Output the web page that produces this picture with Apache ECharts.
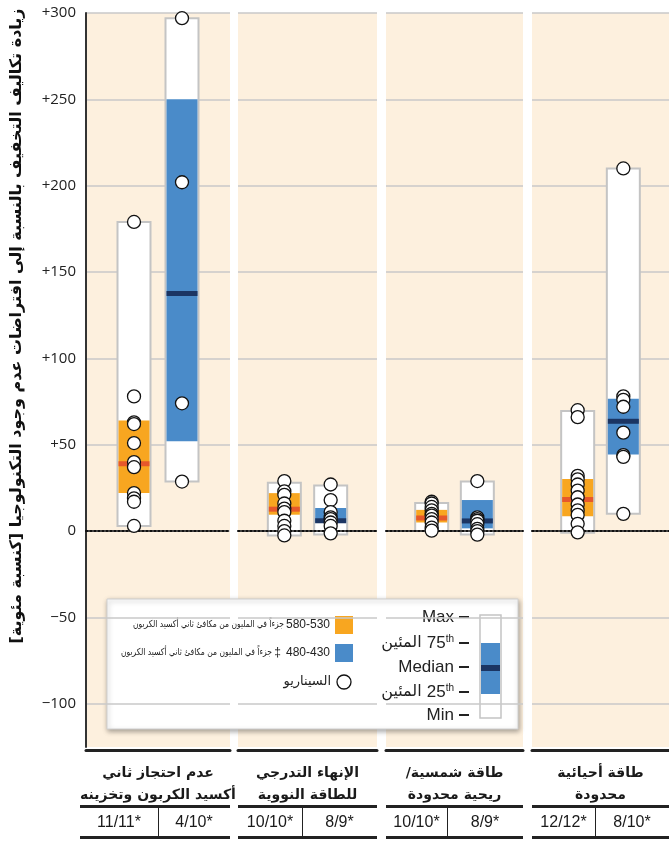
<!DOCTYPE html>
<html><head><meta charset="utf-8">
<script src="https://cdn.jsdelivr.net/npm/echarts@6/dist/echarts.min.js"></script>
<style>html,body{margin:0;padding:0;background:#fff}#c{width:669px;height:842px}</style>
</head><body><div id="c"></div>
<script>
// ---------- data ----------
const categories = ['عدم احتجاز ثاني\nأكسيد الكربون وتخزينه', 'الإنهاء التدرجي\nللطاقة النووية', 'طاقة شمسية/\nريحية محدودة', 'طاقة أحيائية\nمحدودة'];
const countsOrange = ['11/11*', '10/10*', '10/10*', '12/12*'];
const countsBlue = ['4/10*', '8/9*', '8/9*', '8/10*'];
// [min, 25th, median, 75th, max]
const orangeStats = [[3, 22, 39, 64, 179], [-2.5, 9.5, 12.7, 22, 28], [0, 5, 7.6, 12.3, 16.3], [-1, 8.6, 18.3, 30.2, 69.5]];
const blueStats = [[28.7, 52, 137.6, 250, 297], [-2, 4.8, 6, 13.4, 26.4], [-2, 1.6, 5.9, 18, 28.7], [10, 44.3, 63.6, 76.6, 210]];
const orangeScenarios = [
  [179, 78, 63, 62, 51, 40, 37, 22, 19, 17, 3],
  [29, 23, 21, 16, 13, 11, 6, 3, 0, -2.5],
  [17, 16, 14, 12, 10, 9, 7, 5, 2, 0.3],
  [70, 66, 32, 30, 27, 23.5, 19.6, 15.4, 12, 9.4, 4.2, -0.7]
];
const blueScenarios = [
  [297, 202, 74, 28.7],
  [27, 18, 11, 8, 7, 5, 3, -1.3],
  [29, 8, 7, 6, 4, 1.3, 0, -2],
  [210, 78, 76, 72, 57, 44, 43, 10]
];
const yTickValues = [300, 250, 200, 150, 100, 50, 0, -50, -100];
const yTickLabels = ['+300', '+250', '+200', '+150', '+100', '+50', '0', '−50', '−100'];
const yTitle = 'زيادة تكاليف التخفيف بالنسبة إلى افتراضات عدم وجود التكنولوجيا [كنسبة مئوية]';
const legendOrange = 'جزءاً في المليون من مكافئ ثاني أكسيد الكربون';
const legendBlue = 'جزءاً في المليون من مكافئ ثاني أكسيد الكربون';
const legendOrangeRange = '580-530';
const legendBlueRange = '480-430';
const legendScenario = 'السيناريو';
const pctWord = 'المئين';

// right-to-left embedding for each line
const rtl = s => s.split('\n').map(l => '\u202B' + l + '\u202C').join('\n');

// ---------- style ----------
const ORANGE = '#f8a620', RED = '#e6582b', BLUE = '#4a8bc9', NAVY = '#1b3563', BEIGE = '#fdf0de', GRID = '#c8c8c8';
const AR = '"DejaVu Sans"';
const LAT = '"Liberation Sans Narrow","Liberation Sans",sans-serif';
const panels = [{l: 86, w: 144}, {l: 238, w: 139}, {l: 386, w: 137}, {l: 532, w: 137}];
const TOP = 13, H = 734;

const grids = [], xAxes = [], yAxes = [], series = [];
panels.forEach((p, i) => {
  grids.push({left: p.l, top: TOP, width: p.w, height: H, show: true, backgroundColor: BEIGE, borderWidth: 0});
  xAxes.push({gridIndex: i, type: 'value', min: 0, max: 3, z: 3,
    axisLine: {show: true, onZero: true, lineStyle: {color: '#111', width: 2, type: [2, 2]}},
    axisTick: {show: false}, axisLabel: {show: false}, splitLine: {show: false}});
  xAxes.push({gridIndex: i, type: 'category', data: [rtl(categories[i])], position: 'bottom', offset: 3,
    axisLine: {show: true, onZero: false, lineStyle: {color: '#222', width: 3}},
    axisTick: {show: false},
    axisLabel: {interval: 0, margin: 12, color: '#1a1a1a', fontFamily: AR, fontWeight: 'bold', fontSize: 14, lineHeight: 22},
    splitLine: {show: false}});
  yAxes.push({gridIndex: i, type: 'value', min: -125, max: 300, interval: 25,
    axisLine: {show: i === 0, lineStyle: {color: '#333', width: 2}},
    axisTick: {show: false},
    axisLabel: {show: i === 0, margin: 10, color: '#222', fontFamily: '"Open Sans",sans-serif', fontSize: 15,
      formatter: v => { const k = yTickValues.indexOf(v); return k >= 0 ? yTickLabels[k] : ''; }},
    splitLine: {show: true, lineStyle: {color: ['rgba(0,0,0,0)', GRID], width: 1.5}}});
  series.push({type: 'custom', xAxisIndex: 2 * i, yAxisIndex: i, z: 2, silent: true,
    data: [[1].concat(orangeStats[i]), [2].concat(blueStats[i])],
    renderItem: function (params, api) {
      const x = api.value(0);
      const lo = api.coord([x, api.value(1)]), q1 = api.coord([x, api.value(2)]),
        md = api.coord([x, api.value(3)]), q3 = api.coord([x, api.value(4)]), hi = api.coord([x, api.value(5)]);
      const w = 33, blue = params.dataIndex === 1, x0 = lo[0] - w / 2;
      return {type: 'group', children: [
        {type: 'rect', shape: {x: x0, y: hi[1], width: w, height: lo[1] - hi[1]}, style: {fill: '#fff', stroke: '#c4c4c4', lineWidth: 2}},
        {type: 'rect', shape: {x: x0 + 1, y: q3[1], width: w - 2, height: q1[1] - q3[1]}, style: {fill: blue ? BLUE : ORANGE}},
        {type: 'rect', shape: {x: x0 + 1, y: md[1] - 2.5, width: w - 2, height: 5}, style: {fill: blue ? NAVY : RED}}
      ]};
    }});
  series.push({type: 'scatter', xAxisIndex: 2 * i, yAxisIndex: i, z: 5, silent: true, symbolSize: 13,
    itemStyle: {color: '#fff', borderColor: '#111', borderWidth: 1.3, opacity: 1},
    data: orangeScenarios[i].map(v => [1, v]).concat(blueScenarios[i].map(v => [2, v]))});
});

// ---------- graphics: titles, table, legend ----------
const graphic = [];
graphic.push({type: 'text', x: 17, y: 326, rotation: Math.PI / 2,
  style: {text: rtl(yTitle), fontFamily: AR, fontWeight: 'bold', fontSize: 16, fill: '#111', align: 'center', verticalAlign: 'middle'}});
const dividers = [158, 302, 447, 595];
panels.forEach((p, i) => {
  const l = i === 0 ? 80 : p.l, r = p.l + p.w;
  graphic.push({type: 'rect', shape: {x: l, y: 805, width: r - l, height: 3}, style: {fill: '#222'}});
  graphic.push({type: 'rect', shape: {x: l, y: 836, width: r - l, height: 3}, style: {fill: '#222'}});
  graphic.push({type: 'rect', shape: {x: dividers[i], y: 808, width: 1, height: 28}, style: {fill: '#222'}});
  graphic.push({type: 'text', x: (l + dividers[i]) / 2, y: 823, style: {text: countsOrange[i], fontFamily: LAT, fontSize: 16, fill: '#1a1a1a', align: 'center', verticalAlign: 'middle'}});
  graphic.push({type: 'text', x: (dividers[i] + r) / 2, y: 823, style: {text: countsBlue[i], fontFamily: LAT, fontSize: 16, fill: '#1a1a1a', align: 'center', verticalAlign: 'middle'}});
});
// legend box
const lg = [];
lg.push({type: 'rect', shape: {x: 107, y: 599, width: 411, height: 130},
  style: {fill: '#fff', stroke: '#d0d0d0', lineWidth: 1, shadowBlur: 5, shadowColor: 'rgba(0,0,0,0.35)', shadowOffsetX: 1, shadowOffsetY: 2}});
lg.push({type: 'rect', shape: {x: 480, y: 615, width: 21, height: 103}, style: {fill: '#fff', stroke: '#c4c4c4', lineWidth: 1.5}});
lg.push({type: 'rect', shape: {x: 481, y: 643, width: 19, height: 51}, style: {fill: BLUE}});
lg.push({type: 'rect', shape: {x: 481, y: 665, width: 19, height: 6}, style: {fill: NAVY}});
const lvY = [617, 643, 667, 692, 715];
lvY.forEach(y => lg.push({type: 'rect', shape: {x: 459, y: y - 1, width: 10, height: 2}, style: {fill: '#222'}}));
const lvStyle = {fontFamily: LAT, fontSize: 17, fill: '#222', align: 'right', verticalAlign: 'middle'};
lg.push({type: 'text', x: 454, y: lvY[0], style: Object.assign({text: 'Max'}, lvStyle)});
lg.push({type: 'text', x: 454, y: lvY[2], style: Object.assign({text: 'Median'}, lvStyle)});
lg.push({type: 'text', x: 454, y: lvY[4], style: Object.assign({text: 'Min'}, lvStyle)});
[['75', lvY[1]], ['25', lvY[3]]].forEach(([n, y]) => lg.push({type: 'text', x: 454, y: y,
  style: {text: '{a|' + pctWord + ' }{n|' + n + '}{s|th}', align: 'right', verticalAlign: 'middle', fill: '#222',
    rich: {a: {fontFamily: AR, fontSize: 16, fill: '#222'}, n: {fontFamily: LAT, fontSize: 17, fill: '#222'},
      s: {fontFamily: LAT, fontSize: 10, fill: '#222', verticalAlign: 'top', padding: [0, 0, 8, 0]}}}}));
lg.push({type: 'rect', shape: {x: 335, y: 616, width: 18, height: 18}, style: {fill: ORANGE}});
lg.push({type: 'rect', shape: {x: 335, y: 644, width: 18, height: 18}, style: {fill: BLUE}});
lg.push({type: 'circle', shape: {cx: 344, cy: 682, r: 7}, style: {fill: '#fff', stroke: '#111', lineWidth: 1.3}});
const numStyle = {fontFamily: LAT, fontSize: 12, fill: '#222', align: 'right', verticalAlign: 'middle'};
const arSmall = {fontFamily: AR, fontSize: 9.5, fill: '#222', align: 'right', verticalAlign: 'middle'};
lg.push({type: 'text', x: 330, y: 625, style: Object.assign({text: legendOrangeRange}, numStyle)});
lg.push({type: 'text', x: 284, y: 625, scaleX: 0.8, originX: 0, originY: 0, style: Object.assign({text: legendOrange}, arSmall)});
lg.push({type: 'text', x: 330, y: 653, style: Object.assign({text: legendBlueRange}, numStyle)});
lg.push({type: 'text', x: 281, y: 653, style: Object.assign({text: '‡'}, numStyle)});
lg.push({type: 'text', x: 272, y: 653, scaleX: 0.8, originX: 0, originY: 0, style: Object.assign({text: legendBlue}, arSmall)});
lg.push({type: 'text', x: 331, y: 682, style: {text: legendScenario, fontFamily: AR, fontSize: 13, fill: '#222', align: 'right', verticalAlign: 'middle'}});
graphic.push({type: 'group', z: 100, children: lg});

const chart = echarts.init(document.getElementById('c'), null, {renderer: 'canvas'});
chart.setOption({animation: false, backgroundColor: '#fff', grid: grids, xAxis: xAxes, yAxis: yAxes, series: series, graphic: graphic});
</script></body></html>
